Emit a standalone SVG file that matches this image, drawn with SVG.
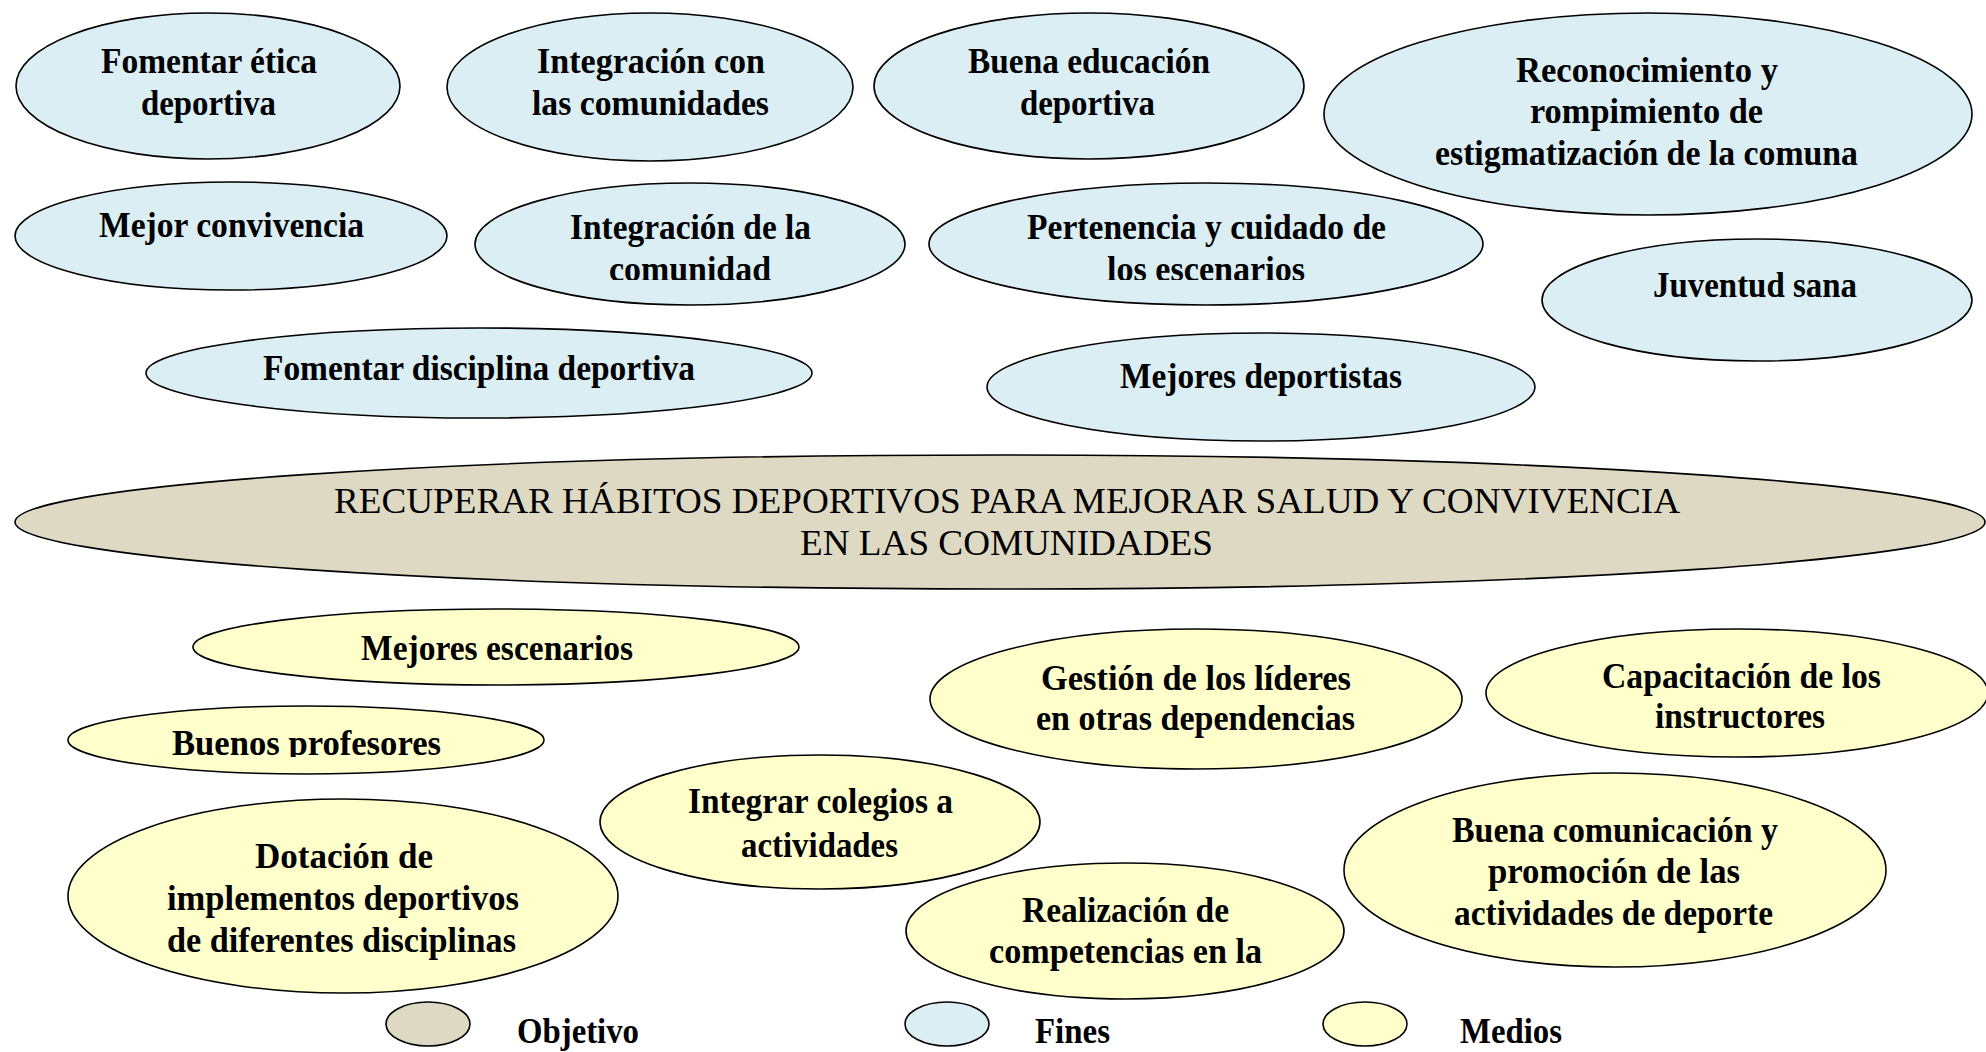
<svg xmlns="http://www.w3.org/2000/svg" width="1986" height="1052" viewBox="0 0 1986 1052">
<style>
ellipse{stroke:#000;stroke-width:1.6}
.fin{fill:#DAEEF3}
.obj{fill:#DDD9C3}
.med{fill:#FFFFCC}
text{font-family:"Liberation Serif","Times New Roman",serif;font-size:35px;font-weight:bold;fill:#000}
.ot{font-weight:normal}
.lg{font-size:35px}
</style>
<defs>
<clipPath id="c1"><rect x="470" y="160" width="440" height="120"/></clipPath>
<clipPath id="c2"><rect x="920" y="160" width="570" height="120"/></clipPath>
<clipPath id="c3"><rect x="60" y="700" width="490" height="57"/></clipPath>
</defs>
<rect width="1986" height="1052" fill="#fff"/>
<g id="connectors"/>
<g id="fin1"><ellipse class="fin" cx="208" cy="86" rx="192" ry="73"/><text x="101" y="73" textLength="216" lengthAdjust="spacingAndGlyphs">Fomentar ética</text><text x="141" y="115" textLength="135" lengthAdjust="spacingAndGlyphs">deportiva</text></g>
<g id="fin2"><ellipse class="fin" cx="650" cy="87" rx="203" ry="74"/><text x="537" y="73" textLength="228" lengthAdjust="spacingAndGlyphs">Integración con</text><text x="532" y="115" textLength="237" lengthAdjust="spacingAndGlyphs">las comunidades</text></g>
<g id="fin3"><ellipse class="fin" cx="1089" cy="86" rx="215" ry="73"/><text x="968" y="73" textLength="242" lengthAdjust="spacingAndGlyphs">Buena educación</text><text x="1020" y="115" textLength="135" lengthAdjust="spacingAndGlyphs">deportiva</text></g>
<g id="fin4"><ellipse class="fin" cx="1648" cy="114" rx="324" ry="101"/><text x="1516" y="82" textLength="262" lengthAdjust="spacingAndGlyphs">Reconocimiento y</text><text x="1530" y="123" textLength="233" lengthAdjust="spacingAndGlyphs">rompimiento de</text><text x="1435" y="165" textLength="423" lengthAdjust="spacingAndGlyphs">estigmatización de la comuna</text></g>
<g id="fin5"><ellipse class="fin" cx="231" cy="236" rx="216" ry="54"/><text x="99" y="237" textLength="265" lengthAdjust="spacingAndGlyphs">Mejor convivencia</text></g>
<g id="fin6"><ellipse class="fin" cx="690" cy="244" rx="215" ry="61"/><text x="570" y="239" textLength="241" lengthAdjust="spacingAndGlyphs">Integración de la</text><text x="609" y="281" textLength="162" lengthAdjust="spacingAndGlyphs" clip-path="url(#c1)">comunidad</text></g>
<g id="fin7"><ellipse class="fin" cx="1206" cy="244" rx="277" ry="61"/><text x="1027" y="239" textLength="359" lengthAdjust="spacingAndGlyphs">Pertenencia y cuidado de</text><text x="1107" y="281" textLength="198" lengthAdjust="spacingAndGlyphs" clip-path="url(#c2)">los escenarios</text></g>
<g id="fin8"><ellipse class="fin" cx="1757" cy="300" rx="215" ry="61"/><text x="1653" y="297" textLength="204" lengthAdjust="spacingAndGlyphs">Juventud sana</text></g>
<g id="fin9"><ellipse class="fin" cx="479" cy="373" rx="333" ry="45"/><text x="263" y="380" textLength="432" lengthAdjust="spacingAndGlyphs">Fomentar disciplina deportiva</text></g>
<g id="fin10"><ellipse class="fin" cx="1261" cy="387" rx="274" ry="54"/><text x="1120" y="388" textLength="282" lengthAdjust="spacingAndGlyphs">Mejores deportistas</text></g>
<g id="objetivo"><ellipse class="obj" cx="1000" cy="522" rx="985" ry="67"/><text class="ot" x="334" y="513" textLength="1346" lengthAdjust="spacingAndGlyphs">RECUPERAR HÁBITOS DEPORTIVOS PARA MEJORAR SALUD Y CONVIVENCIA</text><text class="ot" x="800" y="555" textLength="413" lengthAdjust="spacingAndGlyphs">EN LAS COMUNIDADES</text></g>
<g id="med1"><ellipse class="med" cx="496" cy="647" rx="303" ry="38"/><text x="361" y="660" textLength="272" lengthAdjust="spacingAndGlyphs">Mejores escenarios</text></g>
<g id="med2"><ellipse class="med" cx="306" cy="740" rx="238" ry="34"/><text x="172" y="755" textLength="269" lengthAdjust="spacingAndGlyphs" clip-path="url(#c3)">Buenos profesores</text></g>
<g id="med3"><ellipse class="med" cx="343" cy="896" rx="275" ry="97"/><text x="255" y="868" textLength="178" lengthAdjust="spacingAndGlyphs">Dotación de</text><text x="167" y="910" textLength="352" lengthAdjust="spacingAndGlyphs">implementos deportivos</text><text x="167" y="952" textLength="349" lengthAdjust="spacingAndGlyphs">de diferentes disciplinas</text></g>
<g id="med4"><ellipse class="med" cx="820" cy="822" rx="220" ry="67"/><text x="688" y="813" textLength="265" lengthAdjust="spacingAndGlyphs">Integrar colegios a</text><text x="741" y="857" textLength="157" lengthAdjust="spacingAndGlyphs">actividades</text></g>
<g id="med5"><ellipse class="med" cx="1196" cy="699" rx="266" ry="70"/><text x="1041" y="690" textLength="310" lengthAdjust="spacingAndGlyphs">Gestión de los líderes</text><text x="1036" y="730" textLength="319" lengthAdjust="spacingAndGlyphs">en otras dependencias</text></g>
<g id="med6"><ellipse class="med" cx="1737" cy="693" rx="251" ry="64"/><text x="1602" y="688" textLength="279" lengthAdjust="spacingAndGlyphs">Capacitación de los</text><text x="1655" y="728" textLength="170" lengthAdjust="spacingAndGlyphs">instructores</text></g>
<g id="med7"><ellipse class="med" cx="1615" cy="870" rx="271" ry="97"/><text x="1452" y="842" textLength="326" lengthAdjust="spacingAndGlyphs">Buena comunicación y</text><text x="1488" y="883" textLength="252" lengthAdjust="spacingAndGlyphs">promoción de las</text><text x="1454" y="925" textLength="319" lengthAdjust="spacingAndGlyphs">actividades de deporte</text></g>
<g id="med8"><ellipse class="med" cx="1125" cy="931" rx="219" ry="68"/><text x="1022" y="922" textLength="207" lengthAdjust="spacingAndGlyphs">Realización de</text><text x="989" y="963" textLength="273" lengthAdjust="spacingAndGlyphs">competencias en la</text></g>
<g id="leyenda">
<ellipse class="obj" cx="428" cy="1024" rx="42" ry="22"/><text class="lg" x="517" y="1043" textLength="122" lengthAdjust="spacingAndGlyphs">Objetivo</text>
<ellipse class="fin" cx="947" cy="1024" rx="42" ry="22"/><text class="lg" x="1035" y="1043" textLength="75" lengthAdjust="spacingAndGlyphs">Fines</text>
<ellipse class="med" cx="1365" cy="1024" rx="42" ry="22"/><text class="lg" x="1460" y="1043" textLength="102" lengthAdjust="spacingAndGlyphs">Medios</text>
</g>
</svg>
